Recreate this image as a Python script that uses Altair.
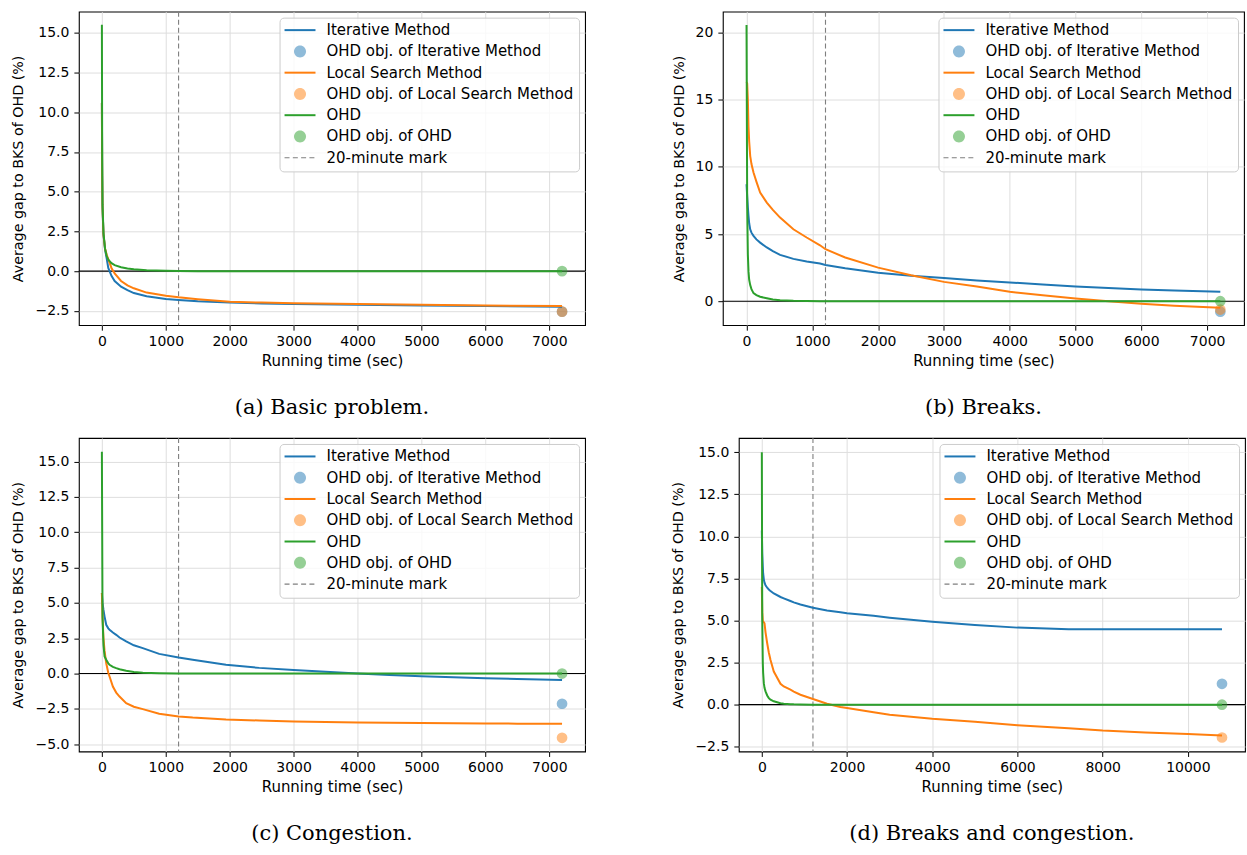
import altair as alt
import pandas as pd

SERIES = ["Iterative Method", "Local Search Method", "OHD"]
SERIES_COLORS = ["#1f77b4", "#ff7f0e", "#2ca02c"]

LEGEND_ENTRIES = [
    "Iterative Method",
    "OHD obj. of Iterative Method",
    "Local Search Method",
    "OHD obj. of Local Search Method",
    "OHD",
    "OHD obj. of OHD",
    "20-minute mark",
]
LEGEND_COLORS = [
    "#1f77b4", "rgba(31,119,180,0.5)",
    "#ff7f0e", "rgba(255,127,14,0.5)",
    "#2ca02c", "rgba(44,160,44,0.5)",
    "#7f7f7f",
]
LINE_PATH = "M-1.5,-0.2L4.7,-0.2L4.7,0.2L-1.5,0.2Z"
DOT_PATH = "M0.4,0A1.2,1.2,0,1,1,2.8,0A1.2,1.2,0,1,1,0.4,0Z"
DASH_PATH = ("M-1.5,-0.12L-0.5,-0.12L-0.5,0.12L-1.5,0.12Z"
             "M0.16,-0.12L1.16,-0.12L1.16,0.12L0.16,0.12Z"
             "M1.82,-0.12L2.82,-0.12L2.82,0.12L1.82,0.12Z"
             "M3.48,-0.12L4.48,-0.12L4.48,0.12L3.48,0.12Z")
LEGEND_SHAPES = [LINE_PATH, DOT_PATH, LINE_PATH, DOT_PATH, LINE_PATH, DOT_PATH, DASH_PATH]

MARK_20MIN = 1200

# ---- (a) Basic problem ----
T_A = [0, 5, 10, 25, 50, 75, 100, 150, 200, 300, 400, 500, 700, 1000, 1200, 1500,
       2000, 2500, 3000, 4000, 5000, 6000, 7200]
A_ITER = [10.6, 6.0, 4.0, 2.3, 1.35, 0.8, 0.2, -0.3, -0.62, -0.98, -1.2, -1.38, -1.58, -1.75,
          -1.82, -1.9, -1.98, -2.03, -2.07, -2.12, -2.17, -2.2, -2.24]
A_LOCAL = [10.6, 6.0, 4.0, 2.3, 1.4, 1.05, 0.75, 0.2, -0.15, -0.62, -0.9, -1.08, -1.35, -1.55,
           -1.65, -1.77, -1.93, -1.98, -2.02, -2.07, -2.12, -2.16, -2.2]
A_OHD = [15.5, 7.0, 4.2, 2.4, 1.4, 0.95, 0.72, 0.5, 0.38, 0.25, 0.17, 0.12, 0.06, 0.02,
         0.01, 0.0, 0.0, 0.0, 0.0, 0.0, 0.0, 0.0, 0.0]
A_DOTS = [-2.55, -2.55, 0.0]

# ---- (b) Breaks ----
T_B = [0, 10, 20, 30, 40, 56, 75, 106, 150, 207, 308, 400, 510, 712, 914, 1117, 1200, 1500,
       2000, 2500, 3000, 3500, 4000, 4500, 5000, 5500, 6000, 6500, 7200]
B_ITER = [8.7, 7.8, 7.0, 6.35, 5.8, 5.35, 5.1, 4.86, 4.6, 4.36, 4.0, 3.72, 3.45, 3.15, 2.95,
          2.8, 2.7, 2.45, 2.12, 1.9, 1.72, 1.55, 1.4, 1.25, 1.1, 0.98, 0.88, 0.8, 0.7]
B_LOCAL = [16.3, 16.2, 15.0, 13.0, 11.9, 10.8, 10.2, 9.57, 8.9, 8.08, 7.34, 6.8, 6.22, 5.35,
           4.74, 4.16, 3.87, 3.25, 2.5, 1.93, 1.44, 1.09, 0.7, 0.45, 0.2, 0.0, -0.19, -0.34, -0.49]
B_OHD = [20.55, 7.0, 3.5, 2.2, 1.6, 1.2, 0.9, 0.6, 0.45, 0.33, 0.22, 0.13, 0.08, 0.03, 0.01,
         0.0, 0.0, 0.0, 0.0, 0.0, 0.0, 0.0, 0.0, 0.0, 0.0, 0.0, 0.0, 0.0, 0.0]
B_DOTS = [-0.78, -0.62, 0.0]

# ---- (c) Congestion ----
T_C = [0, 10, 25, 42, 68, 100, 120, 172, 224, 276, 380, 500, 640, 896, 1200, 1421, 1681, 1942,
       2462, 3000, 3500, 4000, 4500, 5000, 5500, 6000, 6500, 7200]
C_ITER = [5.7, 5.0, 4.5, 4.03, 3.45, 3.2, 3.1, 2.9, 2.74, 2.55, 2.27, 2.0, 1.8, 1.39, 1.13, 0.97,
          0.8, 0.62, 0.4, 0.25, 0.12, 0.0, -0.1, -0.2, -0.27, -0.33, -0.38, -0.45]
C_LOCAL = [5.7, 4.0, 2.5, 1.6, 0.73, 0.05, -0.21, -0.92, -1.35, -1.63, -2.1, -2.35, -2.52, -2.85,
           -3.04, -3.12, -3.18, -3.25, -3.33, -3.4, -3.44, -3.47, -3.49, -3.51, -3.53, -3.54,
           -3.55, -3.56]
C_OHD = [15.7, 4.0, 2.0, 1.2, 0.97, 0.72, 0.62, 0.47, 0.38, 0.3, 0.19, 0.11, 0.05, 0.02, 0.0,
         0.0, 0.0, 0.0, 0.0, 0.0, 0.0, 0.0, 0.0, 0.0, 0.0, 0.0, 0.0, 0.0]
C_DOTS = [-2.14, -4.55, 0.0]

# ---- (d) Breaks and congestion ----
T_D = [0, 10, 23, 31, 47, 63, 87, 126, 164, 204, 281, 438, 515, 672, 750, 906, 1200, 1530, 1843,
       2000, 2623, 3000, 4000, 5000, 6000, 7200, 8000, 9000, 10000, 10800]
D_ITER = [10.36, 9.0, 8.2, 7.8, 7.45, 7.25, 7.1, 6.95, 6.85, 6.75, 6.61, 6.4, 6.32, 6.16, 6.08,
          5.95, 5.76, 5.6, 5.49, 5.43, 5.28, 5.17, 4.93, 4.74, 4.58, 4.48, 4.48, 4.48, 4.48, 4.48]
D_LOCAL = [7.0, 5.5, 5.0, 4.93, 4.9, 4.83, 4.3, 3.65, 3.1, 2.66, 1.97, 1.24, 1.08, 0.89, 0.78,
           0.59, 0.34, 0.06, -0.14, -0.2, -0.45, -0.6, -0.84, -1.02, -1.22, -1.4, -1.54, -1.65,
           -1.74, -1.83]
D_OHD = [15.0, 5.0, 2.47, 1.9, 1.28, 1.0, 0.79, 0.55, 0.39, 0.3, 0.2, 0.09, 0.06, 0.03, 0.02,
         0.01, 0.0, 0.0, 0.0, 0.0, 0.0, 0.0, 0.0, 0.0, 0.0, 0.0, 0.0, 0.0, 0.0, 0.0]
D_DOTS = [1.24, -1.95, 0.0]

X_TICKS_7200 = [0, 1000, 2000, 3000, 4000, 5000, 6000, 7000]
X_TICKS_10800 = [0, 2000, 4000, 6000, 8000, 10000]


def panel(T, iters, local, ohd, dots, xdom, ydom, xvals, yvals, yfmt, w, h, caption):
    x = alt.X("t:Q", scale=alt.Scale(domain=xdom, nice=False, zero=False),
              axis=alt.Axis(values=xvals, format="d", title="Running time (sec)"))
    y = alt.Y("gap:Q", scale=alt.Scale(domain=ydom, nice=False, zero=False),
              axis=alt.Axis(values=yvals, format=yfmt, title="Average gap to BKS of OHD (%)"))

    zero = alt.Chart(pd.DataFrame({"gap": [0.0]})).mark_rule(
        color="black", strokeWidth=1.2).encode(y=y)
    vline = alt.Chart(pd.DataFrame({"t": [MARK_20MIN]})).mark_rule(
        color="#7f7f7f", strokeDash=[5, 3], strokeWidth=1.1).encode(x=x)

    tend = T[-1]
    dots_df = pd.DataFrame({"t": [tend] * 3, "gap": dots, "series": SERIES})
    dot_layer = alt.Chart(dots_df).mark_circle(size=115, opacity=0.5).encode(
        x=x, y=y,
        fill=alt.Fill("series:N", scale=alt.Scale(domain=SERIES, range=SERIES_COLORS), legend=None),
    )

    line_layers = []
    for vals, col in zip([iters, local, ohd], SERIES_COLORS):
        df = pd.DataFrame({"t": T, "gap": vals})
        line_layers.append(
            alt.Chart(df).mark_line(color=col, strokeWidth=2).encode(x=x, y=y)
        )

    leg_df = pd.DataFrame({"entry": LEGEND_ENTRIES})
    legend_layer = alt.Chart(leg_df).mark_point(filled=True, opacity=1).encode(
        color=alt.Color("entry:N", scale=alt.Scale(domain=LEGEND_ENTRIES, range=LEGEND_COLORS),
                        legend=alt.Legend(title=None)),
        shape=alt.Shape("entry:N", scale=alt.Scale(domain=LEGEND_ENTRIES, range=LEGEND_SHAPES),
                        legend=alt.Legend(title=None)),
    ).transform_filter("false")

    return alt.layer(zero, vline, dot_layer, *line_layers, legend_layer).properties(
        width=w, height=h,
        title=alt.TitleParams(caption, orient="bottom", anchor="middle"),
    )


pa = panel(T_A, A_ITER, A_LOCAL, A_OHD, A_DOTS, [-360, 7560], [-3.4, 16.33], X_TICKS_7200,
           [-2.5, 0, 2.5, 5, 7.5, 10, 12.5, 15], ".1f", 507, 314, "(a) Basic problem.")
pb = panel(T_B, B_ITER, B_LOCAL, B_OHD, B_DOTS, [-360, 7560], [-1.78, 21.54], X_TICKS_7200,
           [0, 5, 10, 15, 20], "d", 522, 314, "(b) Breaks.")
pc = panel(T_C, C_ITER, C_LOCAL, C_OHD, C_DOTS, [-360, 7560], [-5.52, 16.68], X_TICKS_7200,
           [-5, -2.5, 0, 2.5, 5, 7.5, 10, 12.5, 15], ".1f", 507, 314, "(c) Congestion.")
pd_ = panel(T_D, D_ITER, D_LOCAL, D_OHD, D_DOTS, [-540, 11340], [-2.78, 15.85], X_TICKS_10800,
            [-2.5, 0, 2.5, 5, 7.5, 10, 12.5, 15], ".1f", 507, 314, "(d) Breaks and congestion.")


def row(c1, c2):
    return alt.hconcat(c1, c2, spacing=84).resolve_scale(
        color="independent", shape="independent", fill="independent"
    ).resolve_legend(color="independent", shape="independent")


chart = alt.vconcat(row(pa, pb), row(pc, pd_), spacing=17).resolve_scale(
    color="independent", shape="independent", fill="independent"
).resolve_legend(color="independent", shape="independent").properties(
    padding={"left": 11, "top": 9, "right": 0, "bottom": 0},
    background="white",
).configure_view(
    stroke="black", strokeWidth=1.1
).configure_axis(
    labelFont="DejaVu Sans", labelFontSize=14, labelColor="black",
    titleFont="DejaVu Sans", titleFontWeight="normal", titleColor="black",
    tickColor="black", tickSize=5, tickWidth=1, domain=False,
    grid=True, gridColor="#dedede", gridWidth=1,
    labelOverlap=False, labelFlush=False,
).configure_axisX(
    titleFontSize=15, titlePadding=5, labelPadding=4,
).configure_axisY(
    titleFontSize=14.3, titlePadding=9, labelPadding=5,
).configure_legend(
    orient="top-right", offset=6, padding=5,
    fillColor="rgba(255,255,255,0.8)", strokeColor="#cccccc", cornerRadius=4,
    labelFont="DejaVu Sans", labelFontSize=15, labelColor="black", labelLimit=400,
    symbolSize=100, symbolStrokeWidth=0, rowPadding=5.3, labelOffset=27, symbolOffset=0,
).configure_title(
    font="DejaVu Serif", fontSize=21, fontWeight="normal", color="black", offset=29,
)

chart.save("out.html", embed_options={"renderer": "svg", "actions": False})
